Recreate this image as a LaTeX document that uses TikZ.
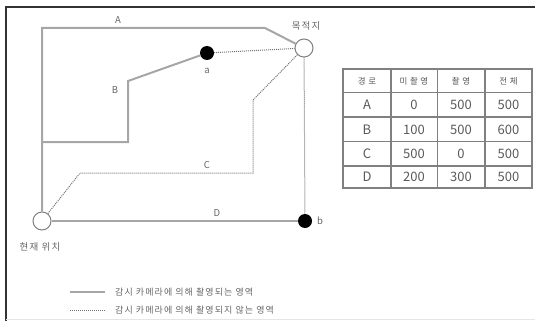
\documentclass[tikz,border=0pt]{standalone}
\usepackage{fontspec}
\setmainfont{Noto Sans CJK KR}
\newfontfamily\kfont[LetterSpace=12]{Noto Sans CJK KR}
\newfontfamily\khfont[LetterSpace=30]{Noto Sans CJK KR}
\begin{document}
\begin{tikzpicture}[x=1pt,y=-1pt,
  solidl/.style={draw=black!35, line width=2pt},
  dotl/.style={draw=black!55, line width=1pt, dash pattern=on 1pt off 1pt},
  opencirc/.style={circle, draw=black!50, fill=white, line width=1pt, minimum size=18pt, inner sep=0pt},
  blackdot/.style={circle, fill=black, minimum size=14pt, inner sep=0pt},
  lbl/.style={text=black!60, font=\fontsize{9.5}{10}\selectfont, inner sep=0pt},
  klbl/.style={text=black!60, font=\kfont\fontsize{9.5}{10}\selectfont, inner sep=0pt},
  leglbl/.style={text=black!60, font=\kfont\fontsize{9}{10}\selectfont, inner sep=0pt},
  cell/.style={text=black!65, font=\fontsize{13}{14}\selectfont, inner sep=0pt},
  hcell/.style={text=black!65, font=\khfont\fontsize{8.5}{9}\selectfont, inner sep=0pt},
  grid/.style={draw=black!50, line width=1.2pt}]
\useasboundingbox (0,0) rectangle (535,321);
% frame
\draw[black!80, line width=1.3pt] (6,321) -- (6,7) -- (535,7);
\draw[black!10, line width=0.8pt] (6,319) -- (535,319);
% coordinates
\coordinate (A1) at (42,28);
\coordinate (A2) at (265,28);
\coordinate (B1) at (42,142);
\coordinate (B2) at (128,142);
\coordinate (B3) at (128,81);
\coordinate (C1) at (80,173);
\coordinate (C2) at (253,173);
\coordinate (C3) at (253,100);
% nodes
\node[opencirc] (dest) at (304,48) {};
\node[opencirc] (cur) at (42,221) {};
\node[blackdot] (a) at (207,53) {};
\node[blackdot] (b) at (305,221) {};
% paths
\draw[solidl] (cur) -- (A1) -- (A2) -- (dest);
\draw[solidl] (B1) -- (B2) -- (B3) -- (a);
\draw[dotl] (a) -- (dest);
\draw[dotl] (cur) -- (C1) -- (C2) -- (C3) -- (dest);
\draw[solidl] (cur) -- (b);
\draw[dotl] (dest) -- (b);
% labels
\node[lbl] (lA) at (118,20) {A};
\node[lbl] (lB) at (115,90) {B};
\node[lbl] (lC) at (207,165) {C};
\node[lbl] (lD) at (217,213) {D};
\node[lbl] (la) at (207,71) {a};
\node[lbl] (lb) at (320,221) {b};
\node[klbl] (ldest) at (306,26) {목적지};
\node[klbl] (lcur) at (40,247) {현재 위치};
% legend
\coordinate (L1s) at (70,292);
\coordinate (L1e) at (105,292);
\coordinate (L2s) at (70,310);
\coordinate (L2e) at (105,310);
\draw[solidl] (L1s) -- (L1e);
\draw[dotl] (L2s) -- (L2e);
\node[leglbl, anchor=west] (leg1) at (115,292) {감시 카메라에 의해 촬영되는 영역};
\node[leglbl, anchor=west] (leg2) at (115,310) {감시 카메라에 의해 촬영되지 않는 영역};
% table
\draw[grid] (343,69) rectangle (532,188);
\foreach \yy in {92.5,117,141.5,166} \draw[grid] (343,\yy) -- (532,\yy);
\foreach \xx in {391,437.5,485} \draw[grid] (\xx,69) -- (\xx,188);
\node[hcell] (h1) at (367,81) {경로};
\node[hcell] (h2) at (414,81) {미촬영};
\node[hcell] (h3) at (461,81) {촬영};
\node[hcell] (h4) at (508.5,81) {전체};
\node[cell] (r1a) at (367,105) {A};
\node[cell] (r1b) at (414,105) {0};
\node[cell] (r1c) at (461,105) {500};
\node[cell] (r1d) at (508.5,105) {500};
\node[cell] (r2a) at (367,129.5) {B};
\node[cell] (r2b) at (414,129.5) {100};
\node[cell] (r2c) at (461,129.5) {500};
\node[cell] (r2d) at (508.5,129.5) {600};
\node[cell] (r3a) at (367,154) {C};
\node[cell] (r3b) at (414,154) {500};
\node[cell] (r3c) at (461,154) {0};
\node[cell] (r3d) at (508.5,154) {500};
\node[cell] (r4a) at (367,177) {D};
\node[cell] (r4b) at (414,177) {200};
\node[cell] (r4c) at (461,177) {300};
\node[cell] (r4d) at (508.5,177) {500};
\end{tikzpicture}
\end{document}
